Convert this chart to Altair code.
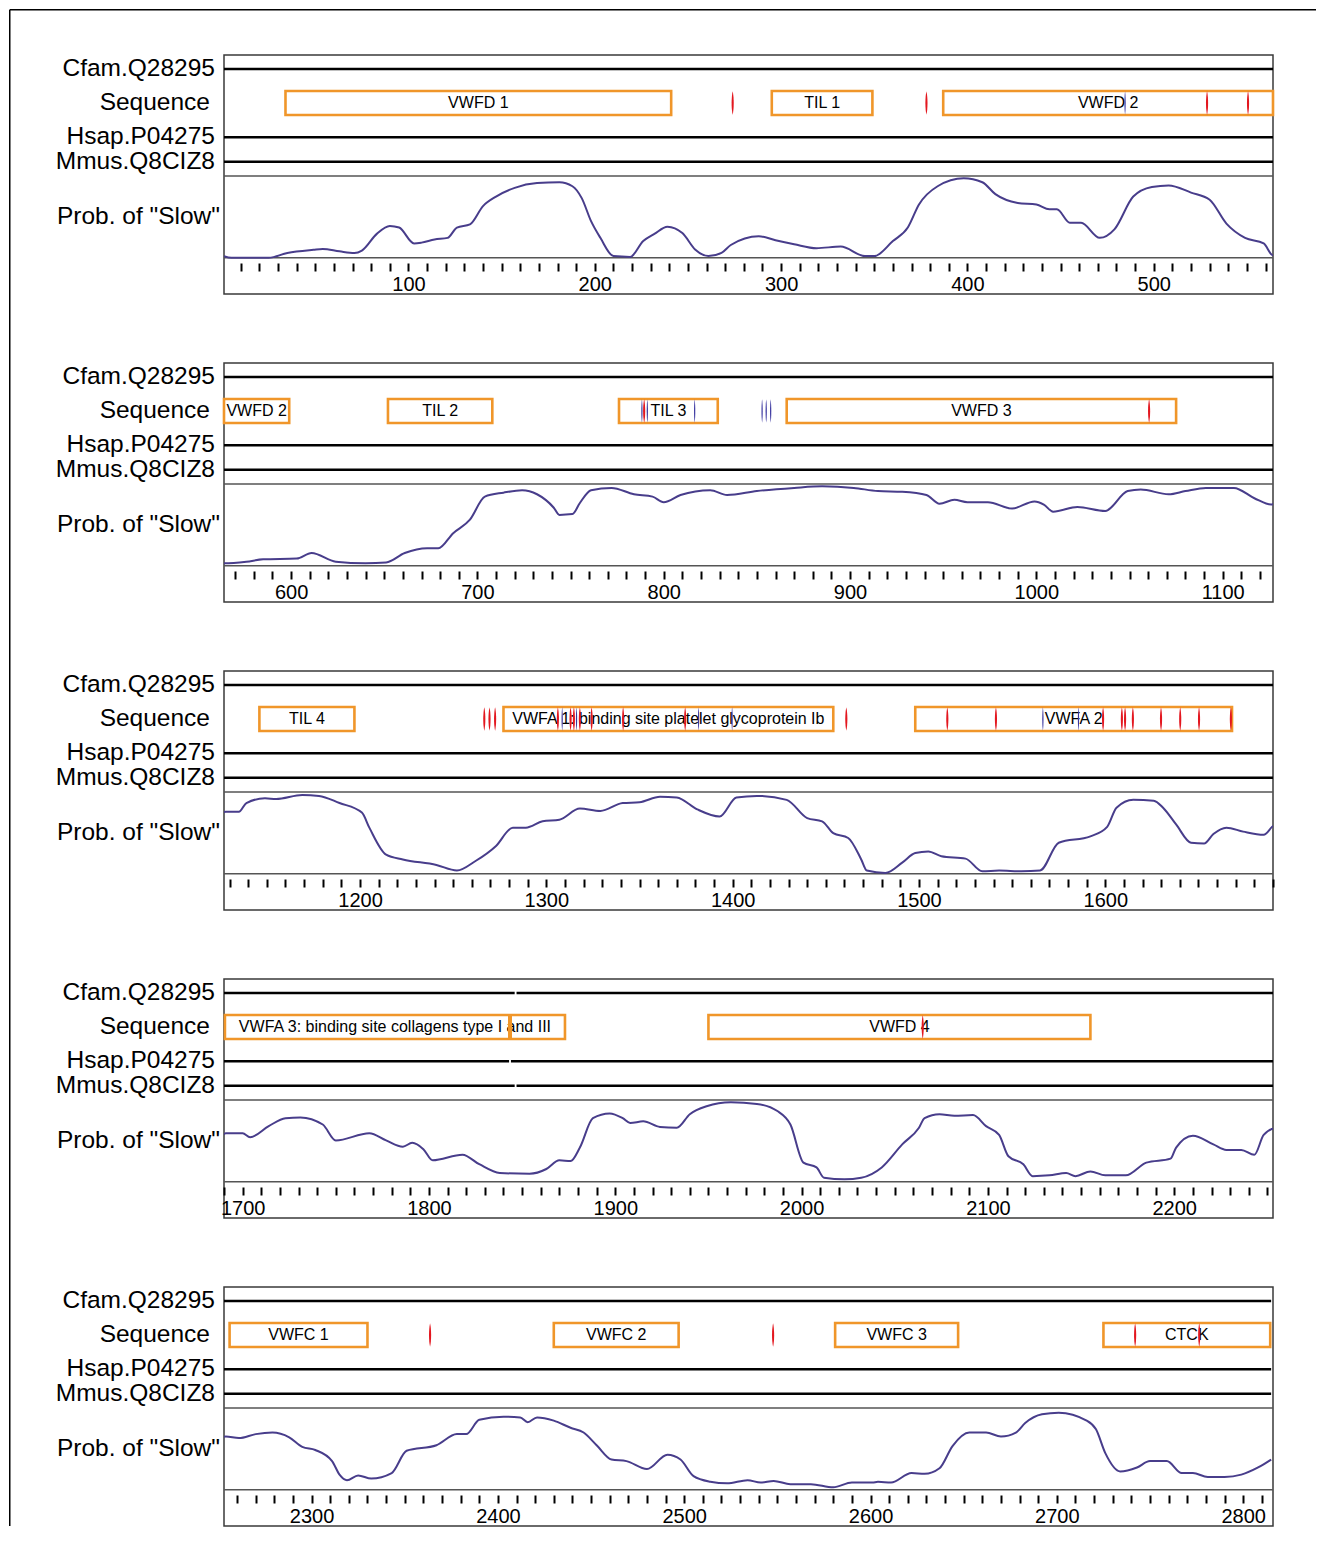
import math
import altair as alt
import pandas as pd

# ---------------- data ----------------
PANEL_STARTS = [1, 564, 1127, 1690, 2253]
PANEL_LEN = 563

track_labels = ["Cfam.Q28295", "Sequence", "Hsap.P04275", "Mmus.Q8CIZ8", 'Prob. of "Slow"']

# aligned stretches of each species line (residue ranges)
cfam_starts = [1, 1847]
cfam_ends = [1846, 2815]
hsap_starts = [1, 1844]
hsap_ends = [1843, 2815]
mmus_starts = [1, 1847]
mmus_ends = [1846, 2815]

domain_names = ["VWFD 1", "TIL 1", "VWFD 2", "TIL 2", "TIL 3", "VWFD 3", "TIL 4",
                "VWFA 1: binding site platelet glycoprotein Ib", "VWFA 2",
                "VWFA 3: binding site collagens type I and III", "VWFD 4",
                "VWFC 1", "VWFC 2", "VWFC 3", "CTCK"]
domain_starts = [34, 295, 387, 652, 776, 866, 1146, 1277, 1498, 1690.5, 1950, 2256, 2430, 2581, 2725]
domain_ends = [241, 349, 599, 708, 829, 1075, 1197, 1454, 1668, 1873, 2155, 2330, 2497, 2647, 2814.5]
domain_breaks = [1843.5]

red_sites = [274, 378, 528.6, 550.6, 789.5, 1060.5, 1266.7, 1269.5, 1272.5,
             1306.2, 1313, 1314.8, 1318, 1324.3, 1341.2, 1374.5, 1461,
             1515.2, 1541.3, 1598.8, 1608.9, 1610.6, 1614.8, 1629.9, 1640.2, 1650.3, 1667.4,
             2065, 2363.6, 2547.7, 2742, 2776.4]
blue_sites = [484.6, 788.3, 791.2, 816.6, 852.8, 855, 857.4, 1308.5, 1316.2,
              1381.7, 1399.7, 1566.5, 1585.6]

slow_pos = [1, 5, 25, 35, 49, 54, 63, 71, 75, 83, 90, 95, 103, 107, 114, 121, 126, 133, 140, 147,
            157, 169, 181, 188, 193, 198, 203, 210, 219, 226, 232, 239, 247, 254, 261, 268, 273, 288,
            297, 307, 319, 332, 345, 350, 360, 368, 374, 384, 398, 408, 415, 427, 437, 444, 448, 455,
            461, 471, 479, 489, 499, 508, 520, 530, 539, 549, 559, 564,
            576, 585, 603, 611, 624, 640, 651, 661, 673, 679, 687, 696, 704, 714, 724, 732, 741, 744,
            751, 755, 761, 772, 784, 794, 800, 809, 825, 834, 850, 870, 885, 902, 915, 928, 941, 948,
            956, 963, 974, 987, 999, 1004, 1009, 1022, 1037, 1049, 1056, 1071, 1080, 1091, 1106,
            1117, 1126,
            1128, 1135, 1139, 1149, 1155, 1169, 1178, 1189, 1201, 1205, 1214, 1223, 1241, 1252,
            1262, 1273, 1282, 1289, 1298, 1307, 1318, 1329, 1341, 1350, 1361, 1370, 1381, 1393,
            1402, 1413, 1429, 1440, 1448, 1454, 1462, 1469, 1472, 1482, 1491, 1498, 1505, 1512,
            1525, 1534, 1543, 1555, 1565, 1575, 1592, 1601, 1606, 1615, 1626, 1631, 1638, 1646,
            1653, 1658, 1665, 1674, 1685,
            1691, 1700, 1704, 1714, 1723, 1731, 1743, 1750, 1768, 1777, 1786, 1791, 1797, 1802,
            1818, 1827, 1838, 1854, 1863, 1870, 1876, 1881, 1888, 1897, 1904, 1908, 1915, 1924,
            1933, 1940, 1949, 1962, 1976, 1987, 1994, 2001, 2008, 2012, 2023, 2032, 2043, 2054,
            2063, 2066, 2074, 2082, 2092, 2099, 2106, 2111, 2119, 2124, 2133, 2142, 2147, 2155,
            2163, 2174, 2185, 2198, 2201, 2210, 2221, 2228, 2236, 2243, 2248,
            2254, 2261, 2270, 2279, 2288, 2295, 2302, 2311, 2315, 2319, 2325, 2332, 2343, 2351,
            2367, 2378, 2383, 2390, 2403, 2412, 2416, 2421, 2430, 2439, 2446, 2453, 2461, 2469,
            2480, 2491, 2498, 2505, 2514, 2523, 2534, 2541, 2548, 2557, 2568, 2580, 2590, 2601,
            2604, 2611, 2622, 2629, 2637, 2644, 2653, 2662, 2670, 2678, 2683, 2692, 2701, 2716,
            2721, 2726, 2734, 2743, 2750, 2759, 2767, 2773, 2781, 2790, 2799, 2808, 2815]
slow_prob = [0.02, 0.0, 0.0, 0.06, 0.10, 0.11, 0.08, 0.06, 0.09, 0.30, 0.40, 0.38, 0.18, 0.19, 0.23, 0.25, 0.38, 0.42, 0.65, 0.77,
             0.88, 0.94, 0.95, 0.90, 0.75, 0.46, 0.25, 0.02, 0.01, 0.21, 0.30, 0.39, 0.31, 0.10, 0.02, 0.06, 0.16, 0.27,
             0.22, 0.17, 0.12, 0.14, 0.02, 0.02, 0.21, 0.38, 0.67, 0.90, 1.00, 0.95, 0.80, 0.69, 0.67, 0.61, 0.61, 0.44,
             0.44, 0.25, 0.36, 0.77, 0.89, 0.91, 0.82, 0.73, 0.43, 0.25, 0.18, 0.03,
             0.05, 0.08, 0.09, 0.16, 0.05, 0.03, 0.04, 0.16, 0.22, 0.22, 0.41, 0.58, 0.87, 0.92, 0.95, 0.90, 0.73, 0.64,
             0.65, 0.79, 0.95, 0.98, 0.90, 0.87, 0.80, 0.89, 0.95, 0.89, 0.94, 0.98, 1.00, 0.98, 0.94, 0.93, 0.89, 0.78,
             0.83, 0.80, 0.80, 0.72, 0.81, 0.77, 0.68, 0.74, 0.69, 0.94, 0.96, 0.90, 0.94, 0.98, 0.98,
             0.85, 0.77,
             0.78, 0.78, 0.89, 0.95, 0.94, 0.99, 0.98, 0.89, 0.77, 0.58, 0.24, 0.18, 0.11, 0.04,
             0.16, 0.35, 0.58, 0.58, 0.66, 0.68, 0.82, 0.79, 0.89, 0.90, 0.97, 0.96, 0.81, 0.72,
             0.96, 0.98, 0.93, 0.70, 0.66, 0.51, 0.45, 0.18, 0.04, 0.01, 0.14, 0.26, 0.28, 0.22,
             0.19, 0.03, 0.04, 0.03, 0.04, 0.39, 0.47, 0.59, 0.83, 0.93, 0.92, 0.83, 0.62, 0.39,
             0.38, 0.50, 0.58, 0.53, 0.49,
             0.61, 0.61, 0.56, 0.70, 0.80, 0.81, 0.72, 0.52, 0.61, 0.52, 0.44, 0.49, 0.41, 0.27,
             0.34, 0.22, 0.11, 0.10, 0.16, 0.27, 0.26, 0.43, 0.80, 0.86, 0.80, 0.74, 0.76, 0.69,
             0.68, 0.85, 0.95, 1.00, 0.98, 0.89, 0.72, 0.24, 0.18, 0.05, 0.03, 0.05, 0.18, 0.47,
             0.68, 0.80, 0.85, 0.83, 0.84, 0.70, 0.59, 0.32, 0.22, 0.07, 0.08, 0.11, 0.07, 0.13,
             0.08, 0.08, 0.24, 0.29, 0.43, 0.58, 0.47, 0.40, 0.40, 0.34, 0.59,
             0.67, 0.65, 0.70, 0.72, 0.66, 0.54, 0.50, 0.36, 0.19, 0.12, 0.18, 0.14, 0.21, 0.49,
             0.56, 0.70, 0.70, 0.88, 0.92, 0.91, 0.85, 0.91, 0.87, 0.78, 0.72, 0.56, 0.38, 0.36,
             0.26, 0.44, 0.38, 0.17, 0.10, 0.08, 0.12, 0.09, 0.11, 0.07, 0.07, 0.03, 0.09, 0.09,
             0.10, 0.09, 0.21, 0.20, 0.27, 0.55, 0.72, 0.72, 0.67, 0.72, 0.84, 0.95, 0.97, 0.87,
             0.76, 0.46, 0.23, 0.28, 0.36, 0.36, 0.21, 0.21, 0.16, 0.16, 0.19, 0.28, 0.38]

# ---------------- layout / style ----------------
FONT = "Liberation Sans"
W, H = 1049, 239
Y_CFAM, Y_SEQ, Y_HSAP, Y_MMUS = 14, 48, 82.3, 106.7
Y_SEP, Y_BASE = 121, 202.7
BOX_TOP, BOX_BOT = 36, 60
Y_PROB_LABEL = 162
CURVE_TOP = 123.3
ORANGE = "#f0962a"
RED = "#e3171f"
BLUE = "#3a36a0"
CURVE = "#483d8b"
LENS_RED = "M0,-1C0.12,-0.45 0.12,0.45 0,1C-0.12,0.45 -0.12,-0.45 0,-1Z"
LENS_BLUE = "M0,-1C0.07,-0.45 0.07,0.45 0,1C-0.07,0.45 -0.07,-0.45 0,-1Z"

track_scale = alt.Scale(domain=[0, H], range=[0, H])
curve_scale = alt.Scale(domain=[0, 1], range=[Y_BASE, CURVE_TOP])


def clip(starts, ends, s, e):
    out = []
    for a, b in zip(starts, ends):
        lo, hi = max(a, s), min(b, e)
        if hi > lo:
            out.append((lo, hi))
    return out


def panel(i):
    s = PANEL_STARTS[i]
    e = s + PANEL_LEN
    xscale = alt.Scale(domain=[s, e], nice=False, zero=False)
    ticks = list(range(int(math.ceil(s / 10.0)) * 10, e + 1, 10))
    xaxis = alt.Axis(values=ticks, format="d",
                     labelExpr="datum.value % 100 === 0 ? datum.label : ''",
                     domain=False, grid=False, tickSize=8, tickWidth=2, tickColor="black",
                     labelFont=FONT, labelFontSize=20, labelColor="black", labelPadding=3,
                     labelFlush=False, labelOverlap=False, offset=-31, title=None,
                     orient="bottom")

    def X(f):
        return alt.X(f, type="quantitative", scale=xscale, axis=xaxis)

    def Y(f):
        return alt.Y(f, type="quantitative", scale=track_scale, axis=None)

    # species lines
    rows = []
    for y, st, en in [(Y_CFAM, cfam_starts, cfam_ends), (Y_HSAP, hsap_starts, hsap_ends),
                      (Y_MMUS, mmus_starts, mmus_ends)]:
        for lo, hi in clip(st, en, s, e):
            rows.append({"a": lo, "b": hi, "y": y})
    species = alt.Chart(pd.DataFrame(rows)).mark_rule(color="black", strokeWidth=2.6).encode(
        x=X("a"), x2="b", y=Y("y"))

    seps = alt.Chart(pd.DataFrame({"a": [s, s], "b": [e, e], "y": [Y_SEP, Y_BASE]})).mark_rule(
        color="#555555", strokeWidth=1.4).encode(x=X("a"), x2="b", y=Y("y"))

    # domains
    drows = []
    for n, a, b in zip(domain_names, domain_starts, domain_ends):
        lo, hi = max(a, s), min(b, e)
        if hi > lo:
            drows.append({"name": n, "a": lo, "b": hi, "c": (lo + hi) / 2.0,
                          "y": BOX_TOP, "y2": BOX_BOT, "ym": Y_SEQ})
    ddf = pd.DataFrame(drows)
    boxes = alt.Chart(ddf).mark_rect(fillOpacity=0, stroke=ORANGE, strokeWidth=2.6).encode(
        x=X("a"), x2="b", y=Y("y"), y2="y2")
    dlabels = alt.Chart(ddf).mark_text(font=FONT, fontSize=16, color="black",
                                       baseline="middle").encode(
        x=X("c"), y=Y("ym"), text="name:N")

    layers = [species, seps, boxes, dlabels]

    brk = [b for b in domain_breaks if s <= b <= e]
    if brk:
        layers.append(alt.Chart(pd.DataFrame({"p": brk, "y": [BOX_TOP] * len(brk),
                                              "y2": [BOX_BOT] * len(brk)})).mark_rule(
            color=ORANGE, strokeWidth=4).encode(x=X("p"), y=Y("y"), y2="y2"))

    reds = [r for r in red_sites if s <= r <= e]
    if reds:
        layers.append(alt.Chart(pd.DataFrame({"p": reds, "y": [Y_SEQ] * len(reds)})).mark_point(
            shape=LENS_RED, size=560, filled=True, color=RED, opacity=1, strokeWidth=0).encode(
            x=X("p"), y=Y("y")))
    blues = [b for b in blue_sites if s <= b <= e]
    if blues:
        layers.append(alt.Chart(pd.DataFrame({"p": blues, "y": [Y_SEQ] * len(blues)})).mark_point(
            shape=LENS_BLUE, size=560, filled=True, color=BLUE, opacity=1, strokeWidth=0).encode(
            x=X("p"), y=Y("y")))

    # probability curve
    cdf = pd.DataFrame({"pos": slow_pos, "prob": slow_prob})
    cdf = cdf[(cdf.pos >= s - 20) & (cdf.pos <= e + 20)]
    curve = alt.Chart(cdf).mark_line(color=CURVE, strokeWidth=2, interpolate="monotone",
                                     clip=True).encode(
        x=X("pos"), y=alt.Y("prob:Q", scale=curve_scale, axis=None))
    layers.append(curve)

    # track labels
    lab_common = dict(font=FONT, fontSize=24.5, color="black", align="right", baseline="middle")
    grp = [([track_labels[0], track_labels[2], track_labels[3]], [Y_CFAM, Y_HSAP, Y_MMUS], -9),
           ([track_labels[1]], [Y_SEQ], -14),
           ([track_labels[4]], [Y_PROB_LABEL], -4)]
    for names, ys, dx in grp:
        layers.append(alt.Chart(pd.DataFrame({"t": names, "y": ys})).mark_text(**lab_common).encode(
            x=alt.value(dx), y=Y("y"), text="t:N"))

    if i == 0:
        # outer frame (top and left edges)
        layers.append(alt.Chart(pd.DataFrame({"k": [0]})).mark_rule(color="black", strokeWidth=1.5).encode(
            x=alt.value(-214.25), x2=alt.value(1092), y=alt.value(-45.25)))
        layers.append(alt.Chart(pd.DataFrame({"k": [0]})).mark_rule(color="black", strokeWidth=1.5).encode(
            x=alt.value(-214.25), y=alt.value(-45.25), y2=alt.value(1471)))

    return alt.layer(*layers).resolve_scale(y="independent").properties(width=W, height=H)


chart = alt.vconcat(*[panel(i) for i in range(5)], spacing=69, bounds="flush").properties(
    padding=0
).configure_view(stroke="#3a3a3a", strokeWidth=1.5)

chart.save("out.html", embed_options={"renderer": "svg", "actions": False})
